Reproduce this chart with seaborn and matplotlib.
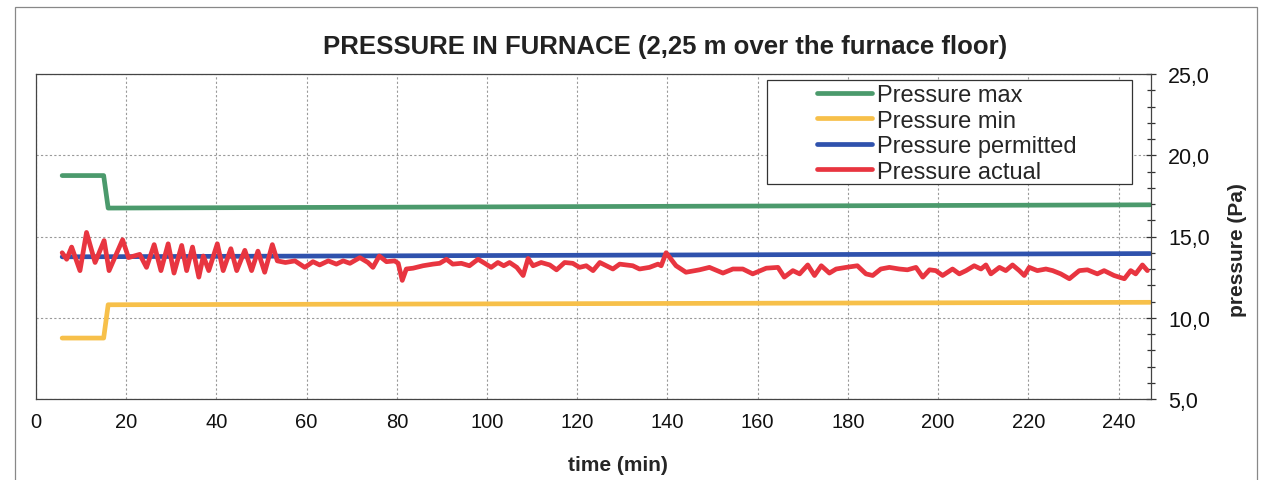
import matplotlib
matplotlib.use("Agg")
import matplotlib.pyplot as plt
import seaborn as sns
from matplotlib.patches import Rectangle
from matplotlib.ticker import MultipleLocator, FuncFormatter

# ---------------- data ----------------
time_limits = [5.8, 15.0, 16.0, 247.0]
pressure_max = [18.75, 18.75, 16.75, 16.95]
pressure_min = [8.75, 8.75, 10.8, 10.95]
time_perm = [5.8, 247.0]
pressure_permitted = [13.75, 13.95]

time_actual = [
    5.8, 6.8, 7.9, 9.75, 11.2, 13.1, 15.1, 16.2, 19.2, 20.5,
    23.0, 24.5, 26.2, 27.7, 29.3, 30.6, 32.3, 33.4, 34.7, 36.1,
    37.1, 38.3, 40.2, 41.5, 43.2, 44.5, 46.3, 47.8, 49.2, 50.7,
    52.4, 53.5, 55.3, 57.4, 59.6, 61.4, 62.9, 64.8, 66.6, 68.1,
    69.6, 71.8, 73.6, 74.7, 76.1, 77.7, 79.5, 80.3, 81.2, 82.1,
    83.6, 85.8, 88.0, 89.5, 91.0, 92.4, 94.3, 96.1, 98.0, 99.5,
    100.9, 102.4, 103.7, 105.0, 106.6, 108.0, 109.1, 110.2, 112.0, 113.9,
    115.4, 117.2, 119.0, 120.5, 122.0, 123.5, 125.0, 127.9, 129.4, 132.3,
    133.8, 136.0, 137.9, 138.6, 139.7, 141.9, 144.1, 147.1, 149.3, 152.3,
    154.5, 156.7, 158.9, 161.9, 164.5, 165.9, 167.8, 169.3, 171.1, 172.6,
    174.1, 175.9, 177.4, 179.6, 182.1, 184.0, 185.5, 187.3, 189.2, 191.4,
    193.2, 195.1, 196.6, 198.1, 199.5, 201.0, 203.2, 204.7, 206.2, 208.0,
    209.5, 210.6, 211.7, 213.6, 215.0, 216.5, 218.0, 219.1, 220.2, 222.0,
    223.9, 225.4, 227.2, 229.1, 231.3, 233.1, 235.3, 236.8, 239.0, 241.3,
    242.7, 243.8, 245.3, 246.4,
]
pressure_actual = [
    14.0, 13.6, 14.35, 12.9, 15.25, 13.4, 14.75, 12.9, 14.8, 13.7,
    13.9, 13.1, 14.5, 12.9, 14.55, 12.75, 14.45, 12.9, 14.35, 12.5,
    13.8, 12.9, 14.55, 12.9, 14.25, 12.9, 14.15, 12.9, 14.1, 12.8,
    14.5, 13.5, 13.4, 13.5, 13.1, 13.45, 13.25, 13.5, 13.3, 13.5,
    13.35, 13.7, 13.4, 13.1, 13.8, 13.45, 13.5, 13.35, 12.3, 13.0,
    13.05, 13.2, 13.3, 13.35, 13.6, 13.3, 13.35, 13.2, 13.6, 13.35,
    13.1, 13.4, 13.2, 13.4, 13.1, 12.6, 13.65, 13.2, 13.4, 13.25,
    12.95, 13.4, 13.35, 13.1, 13.2, 12.9, 13.4, 13.0, 13.3, 13.2,
    13.0, 13.1, 13.3, 13.2, 14.0, 13.2, 12.8, 12.95, 13.1, 12.75,
    13.0, 13.0, 12.7, 13.05, 13.1, 12.5, 12.9, 12.7, 13.25, 12.6,
    13.2, 12.75, 13.0, 13.1, 13.2, 12.7, 12.6, 13.0, 13.1, 13.0,
    12.95, 13.1, 12.5, 12.95, 12.9, 12.6, 13.0, 12.7, 12.9, 13.2,
    13.0, 13.25, 12.7, 13.1, 12.9, 13.25, 12.9, 12.6, 13.1, 12.9,
    13.0, 12.9, 12.7, 12.4, 12.9, 12.95, 12.7, 12.9, 12.6, 12.4,
    12.9, 12.7, 13.25, 12.9,
]

labels = ["Pressure max", "Pressure min", "Pressure permitted", "Pressure actual"]
colors = ["#4b9a6c", "#f7c04a", "#2f52ad", "#e83540"]

title = "PRESSURE IN FURNACE (2,25 m over the furnace floor)"
xlabel = "time (min)"
ylabel = "pressure (Pa)"

# ---------------- figure ----------------
sns.set_style("white")
plt.rcParams["font.family"] = ["Liberation Sans", "DejaVu Sans"]

W, H = 1261, 481
fig = plt.figure(figsize=(W / 100, H / 100), dpi=100)
ax = fig.add_axes([36 / W, 1 - 400 / H, (1151 - 36) / W, (400 - 75) / H])

lw = 3.4
sns.lineplot(x=time_limits, y=pressure_max, ax=ax, color=colors[0], lw=lw, label=labels[0], sort=False)
sns.lineplot(x=time_limits, y=pressure_min, ax=ax, color=colors[1], lw=lw, label=labels[1], sort=False)
sns.lineplot(x=time_perm, y=pressure_permitted, ax=ax, color=colors[2], lw=lw, label=labels[2], sort=False)
sns.lineplot(x=time_actual, y=pressure_actual, ax=ax, color=colors[3], lw=lw, label=labels[3], sort=False)

ax.set_xlim(0, 247.2)
ax.set_ylim(5, 25)

ax.xaxis.set_major_locator(MultipleLocator(20))
ax.xaxis.set_minor_locator(MultipleLocator(5))
ax.yaxis.set_major_locator(MultipleLocator(5))
ax.yaxis.set_minor_locator(MultipleLocator(1))
ax.yaxis.tick_right()
ax.yaxis.set_label_position("right")
ax.yaxis.set_major_formatter(FuncFormatter(lambda v, p: f"{v:.1f}".replace(".", ",")))

ax.tick_params(axis="both", which="both", direction="inout", color="#333333", width=0.9)
ax.tick_params(axis="both", which="major", length=7, colors="#333333", labelcolor="#111111")
ax.tick_params(axis="both", which="minor", length=6)
ax.tick_params(axis="x", which="major", pad=6, labelsize=14.5)
ax.tick_params(axis="y", which="major", pad=9, labelsize=15.5)

ax.grid(True, which="major", color="#9a9a9a", linestyle=(0, (2, 2)), linewidth=0.8)
for s in ax.spines.values():
    s.set_visible(True)
    s.set_color("#444444")
    s.set_linewidth(0.9)

ax.set_xlabel(xlabel, fontsize=15, fontweight="bold")
ax.xaxis.set_label_coords((618 - 36) / 1115, (400 - 456) / 325)
ax.set_ylabel(ylabel, fontsize=15, fontweight="bold")
ax.yaxis.set_label_coords((1228 - 36) / 1115, (400 - 250) / 325)

# legend: frame box + entries
x0 = (767 - 36) / 1115
x1 = (1132 - 36) / 1115
yt = (400 - 81) / 325
yb = (400 - 185) / 325
ax.add_patch(Rectangle((x0, yb), x1 - x0, yt - yb, transform=ax.transAxes,
                       facecolor="white", edgecolor="#333333", lw=0.9, zorder=5))
leg = ax.legend(loc="upper left", bbox_to_anchor=((817 - 36) / 1115, (400 - 85) / 325),
                frameon=False, fontsize=17, handlelength=2.35, handletextpad=0.2,
                labelspacing=0.15, borderpad=0, borderaxespad=0)
leg.set_zorder(6)
for line in leg.get_lines():
    line.set_linewidth(3.4)

fig.text(665 / W, 1 - 47 / H, title, ha="center", va="center", fontsize=18.5, fontweight="bold", color="#222222")

# outer chart frame
fig.patches.append(Rectangle((15 / W, -0.01), (1257 - 15) / W, 1 - 8 / H + 0.01,
                             transform=fig.transFigure, fill=False, edgecolor="#888888", lw=0.9))

fig.savefig("out.png", dpi=100, facecolor="white")
